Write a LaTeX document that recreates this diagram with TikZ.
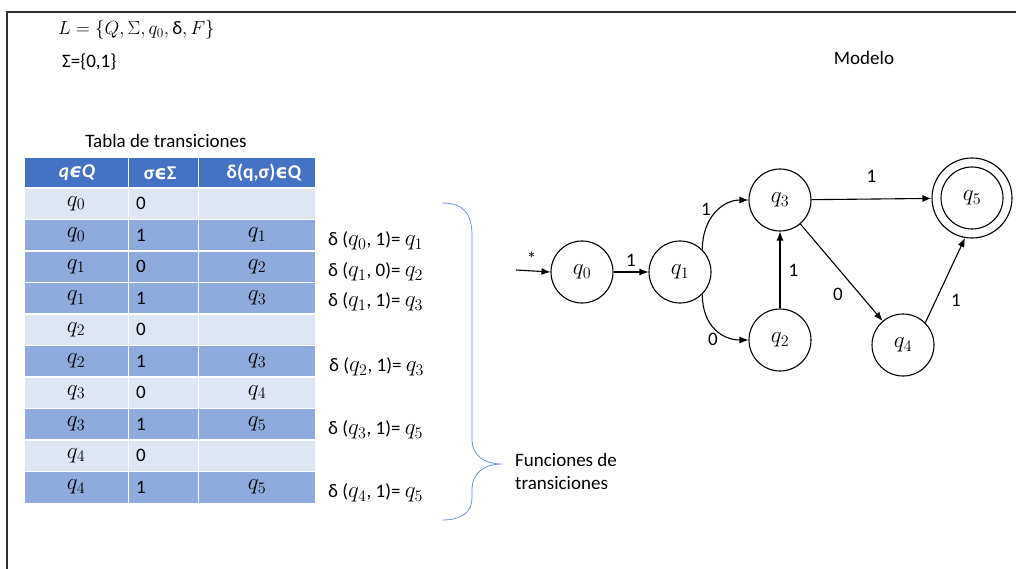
\RequirePackage{fix-cm}
\documentclass[tikz,border=0pt]{standalone}
\usepackage{fontspec}
\setmainfont{Carlito}
\newfontfamily\dejavu{DejaVu Sans}
\usetikzlibrary{arrows.meta}
\definecolor{hdrblue}{HTML}{4472C4}
\definecolor{rowdark}{HTML}{8FAADC}
\definecolor{rowlight}{HTML}{DEE6F4}
\definecolor{bracecol}{HTML}{6F93D2}
\definecolor{framegray}{HTML}{303030}
\newcommand{\eps}{{\dejavu ϵ}}
% state names q_i, set a little larger than the text
\newcommand{\qs}[1]{{\fontsize{23}{27}\selectfont$q_{#1}$}}
\begin{document}
\begin{tikzpicture}[x=1pt,y=-1pt,
  every node/.style={font=\fontsize{19}{23}\selectfont, inner sep=0pt},
  state/.style={circle, draw, line width=1.1pt, minimum size=62pt},
  finalring/.style={circle, draw, line width=1.1pt, minimum size=80pt},
  edge/.style={-{Latex[length=9pt,width=7pt]}, line width=1.1pt},
  hdr/.style={text=white, font=\fontsize{19.5}{23}\selectfont\bfseries},
  delta/.style={anchor=west}
]
\useasboundingbox (0,0) rectangle (1016,569);
% page frame (top and left edges only)
\draw[framegray, line width=1.5pt] (7,569) -- (7,12) -- (1016,12);

% definition of the automaton
\node[anchor=west] (defL) at (58,30) {$L=\{Q,\Sigma,q_0,\mbox{δ},F\}$};
\node[anchor=west] (defS) at (62,62) {Σ=\{0,1\}};
\node (modelo) at (864,58) {Modelo};

% transition table
\node (tabtitle) at (166,141) {Tabla de transiciones};
\fill[hdrblue] (25,158) rectangle (315,188);
\draw[white, line width=1.5pt] (128.5,158) -- (128.5,188) (198.5,158) -- (198.5,188);
\node[hdr] (h1) at (77,173) {\itshape q\eps Q};
\node[hdr] (h2) at (160,173) {σ\eps Σ};
\node[hdr] (h3) at (264,173) {δ(q,σ)\eps Q};
\foreach \i/\col/\a/\b/\c in {1/rowlight/0/0/{},2/rowdark/0/1/1,3/rowdark/1/0/2,
    4/rowdark/1/1/3,5/rowlight/2/0/{},6/rowdark/2/1/3,7/rowlight/3/0/4,
    8/rowdark/3/1/5,9/rowlight/4/0/{},10/rowdark/4/1/5}{
  \pgfmathsetmacro{\yt}{188+(\i-1)*31.5}
  \pgfmathsetmacro{\yb}{\yt+31.5}
  \pgfmathsetmacro{\ym}{\yt+15.75}
  \fill[\col] (25,\yt) rectangle (315,\yb);
  \draw[white, line width=1.5pt] (25,\yt) -- (315,\yt)
     (128.5,\yt) -- (128.5,\yb) (198.5,\yt) -- (198.5,\yb);
  \node (a\i) at (76,\ym) {\qs{\a}};
  \node[anchor=west] (b\i) at (136,\ym) {\b};
  \if\relax\detokenize\expandafter{\c}\relax\else
    \node (c\i) at (257,\ym) {\qs{\c}};
  \fi
}

% transition functions
\node[delta] (d2)  at (328,241) {δ (\qs{0}, 1)= \qs{1}};
\node[delta] (d3)  at (328,272) {δ (\qs{1}, 0)= \qs{2}};
\node[delta] (d4)  at (328,302) {δ (\qs{1}, 1)= \qs{3}};
\node[delta] (d6)  at (329,367) {δ (\qs{2}, 1)= \qs{3}};
\node[delta] (d8)  at (328,430) {δ (\qs{3}, 1)= \qs{5}};
\node[delta] (d10) at (328,493) {δ (\qs{4}, 1)= \qs{5}};

% brace grouping the transition functions
\draw[bracecol, line width=0.8pt]
  (442,203) .. controls (464,203) and (472,214) .. (472,236) -- (472,440)
  .. controls (472,455) and (484,464) .. (502,464)
  .. controls (484,464) and (472,473) .. (472,490) -- (472,498)
  .. controls (472,512) and (462,520) .. (442,520);
\node[anchor=west, align=left] (funcs) at (515,471) {Funciones de\\transiciones};

% automaton
\node[state] (q0) at (582,272) {\qs{0}};
\node[state] (q1) at (680,272) {\qs{1}};
\node[state] (q3) at (780,200) {\qs{3}};
\node[state] (q2) at (780,340) {\qs{2}};
\node[state] (q4) at (903,345) {\qs{4}};
\node[state] (q5) at (972,198) {\qs{5}};
\node[finalring] (q5ring) at (972,198) {};
\coordinate (start) at (516,270);

\draw[edge] (start) -- (q0.west) node[pos=0.45, above=5pt] {*};
\draw[edge] (q0) -- (q1) node[midway, above=5pt] {1};
\draw[edge] (q1.45) .. controls +(0,-32) and +(-26,0) .. (q3.west);
\node (l13) at (706,209) {1};
\draw[edge] (q1.-45) .. controls +(0,32) and +(-26,0) .. (q2.west);
\node (l12) at (713,339) {0};
\draw[edge] (q2) -- (q3) node[midway, right=8pt] {1};
\draw[edge] (q3) -- (q5ring) node[midway, above=16pt] {1};
\draw[edge] (q3) -- (q4);
\node (l34) at (838,294) {0};
\draw[edge] (q4.45) -- (q5ring.-100);
\node (l45) at (956,300) {1};
\end{tikzpicture}
\end{document}
